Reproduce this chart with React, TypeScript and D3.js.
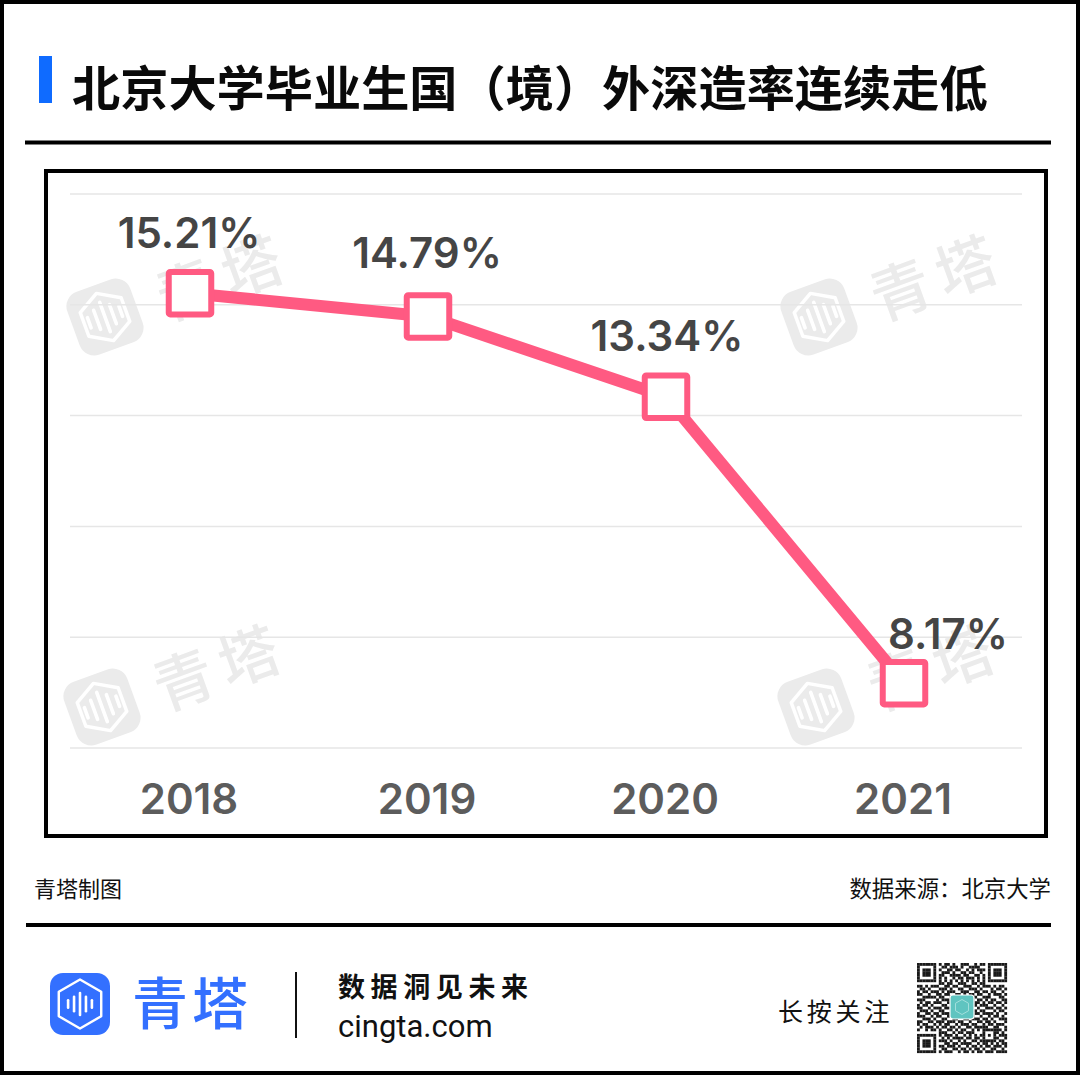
import React from 'react';
import * as d3 from 'd3';

const years = ['2018', '2019', '2020', '2021'];
const rates = [15.21, 14.79, 13.34, 8.17];
const gridTicks = [7, 9, 11, 13, 15, 17];

const titleText = '北京大学毕业生国（境）外深造率连续走低';
const blue = '#0f6bff';
const pink = '#ff5a82';
const cjk = '"Noto Sans CJK SC", "Noto Sans", sans-serif';
const latin = 'Roboto, "Noto Sans", sans-serif';
const numeric = 'Inter, Roboto, sans-serif';

// label offset from each point, the labels do not sit centred on all of them
const labelDx = [-1, -1, 1, 44];
const labelDy = [-45, -48, -46, -34];

const qrRows = [
  '111111101011010011100101101111111',
  '100000100110111010011110001000001',
  '101110101001101100101011101011101',
  '101110100111010011011001001011101',
  '101110101100111101100110101011101',
  '100000101010010110111010101000001',
  '111111101010101010101010101111111',
  '000000001101100111001101100000000',
  '110101110011011001110010111010110',
  '011010001110100110011101000101101',
  '101101110101110011100110110110010',
  '110010011011001101011011001011101',
  '001111101100110010110100111000110',
  '111000010111000101001011010110011',
  '010110111001011110110110101101101',
  '101101000110101001001101110010010',
  '110010111011010110110010011101101',
  '011101001100101011011101100010110',
  '100110110111011100100110111101001',
  '111001011001100111011001001011010',
  '001110100110011001101110110100111',
  '110011011101110110010011011010001',
  '101100101011001011101100101101110',
  '010111010110110100110111110011001',
  '100101101001101011001010111111101',
  '000000001110010110111000100011010',
  '111111101011101001010101101010111',
  '100000100101011110110110100011001',
  '101110101110100101001101111110110',
  '101110100011011011110010110101011',
  '101110101101110100101101011011101',
  '100000100110011011010110100110010',
  '111111101011100101101011011101111',
];

const x = d3.scaleBand<string>().domain(years).range([71, 1023]);
const y = d3.scaleLinear().domain([7, 17]).range([748, 194]);
const cx = (year: string) => (x(year) as number) + x.bandwidth() / 2;

const linePath = d3.line<number>()
  .x((_, i) => cx(years[i]))
  .y(d => y(d))(rates) as string;

// logo hexagon, unit radius
const hexPath = d3.line<number>()
  .x(a => Math.cos(a) * 1)
  .y(a => Math.sin(a) * 1)
  .curve(d3.curveLinearClosed)(d3.range(6).map(i => Math.PI / 6 + i * Math.PI / 3)) as string;

const logoBars = [
  { dx: -14, h: 9 },
  { dx: -7, h: 17 },
  { dx: 0, h: 26 },
  { dx: 7, h: 17 },
  { dx: 14, h: 9 },
];

const LogoMark: React.FC<{ size: number; bg: string; fg: string }> = ({ size, bg, fg }) => {
  const k = size / 56;
  return (
    <g>
      <rect x={-size / 2} y={-size / 2} width={size} height={size} rx={13 * k} fill={bg} />
      <g transform={`scale(${21 * k})`}>
        <path d={hexPath} fill="none" stroke={fg} strokeWidth={0.14} strokeLinejoin="round" />
      </g>
      {logoBars.map(b => (
        <line
          key={b.dx}
          x1={b.dx * k}
          x2={b.dx * k}
          y1={(-b.h / 2) * k}
          y2={(b.h / 2) * k}
          stroke={fg}
          strokeWidth={3 * k}
          strokeLinecap="round"
        />
      ))}
    </g>
  );
};

const Watermark: React.FC<{ px: number; py: number }> = ({ px, py }) => (
  <g transform={`translate(${px},${py}) rotate(-20)`}>
    <LogoMark size={67} bg="#ebebeb" fg="#ffffff" />
    <text x={56} y={25} fontFamily={cjk} fontSize={60} fill="#ebebeb" fontWeight={500}>青</text>
    <text x={125} y={25} fontFamily={cjk} fontSize={60} fill="#ebebeb" fontWeight={500}>塔</text>
  </g>
);

const App: React.FC = () => {
  const marker = 42.5;
  const qrX = 917;
  const qrY = 963;
  const qrCell = 90 / 33;

  return (
    <svg
      width={1080}
      height={1075}
      viewBox="0 0 1080 1075"
      style={{ position: 'absolute', left: 0, top: 0, background: '#fff' }}
    >
      <rect x={2} y={2} width={1076} height={1071} fill="#fff" stroke="#000" strokeWidth={4} />

      {/* header */}
      <rect x={39} y={56} width={13} height={47} fill={blue} />
      <text x={72} y={106} fontFamily={cjk} fontSize={48.2} fontWeight={700} fill="#0a0a0a">{titleText}</text>
      <line x1={25} x2={1051} y1={142.5} y2={142.5} stroke="#000" strokeWidth={4} />

      {/* chart panel */}
      <rect x={46} y={171} width={1000} height={665} fill="#fff" stroke="#000" strokeWidth={4} />

      <Watermark px={105} py={317} />
      <Watermark px={819} py={317} />
      <Watermark px={102} py={707} />
      <Watermark px={816} py={707} />

      {gridTicks.map(t => (
        <line key={t} x1={70} x2={1022} y1={y(t)} y2={y(t)} stroke="#e6e6e6" strokeWidth={1.5} />
      ))}

      <path d={linePath} fill="none" stroke={pink} strokeWidth={12} strokeLinejoin="round" />

      {rates.map((r, i) => (
        <rect
          key={years[i]}
          x={cx(years[i]) - marker / 2}
          y={y(r) - marker / 2}
          width={marker}
          height={marker}
          rx={1.5}
          fill="#fff"
          stroke={pink}
          strokeWidth={6}
        />
      ))}

      {rates.map((r, i) => (
        <text
          key={years[i]}
          x={cx(years[i]) + labelDx[i]}
          y={y(r) + labelDy[i]}
          textAnchor="middle"
          fontFamily={numeric}
          fontSize={42}
          fontWeight={600}
          fill="#454545"
        >
          {r.toFixed(2)}%
        </text>
      ))}

      {years.map(yr => (
        <text
          key={yr}
          x={cx(yr) - 1}
          y={814}
          textAnchor="middle"
          fontFamily={numeric}
          fontSize={42}
          fontWeight={600}
          fill="#5c5c5c"
        >
          {yr}
        </text>
      ))}

      {/* source row */}
      <text x={34} y={897} fontFamily={cjk} fontSize={22} fill="#111">青塔制图</text>
      <text x={1051} y={897} textAnchor="end" fontFamily={cjk} fontSize={22.4} fill="#111">数据来源：北京大学</text>
      <line x1={26} x2={1051} y1={925} y2={925} stroke="#000" strokeWidth={4} />

      {/* footer */}
      <g transform="translate(80,1004)">
        <rect x={-30} y={-31} width={60} height={62} rx={13} fill="#3370ff" />
        <g transform="scale(24.5)">
          <path d={hexPath} fill="none" stroke="#fff" strokeWidth={0.1} strokeLinejoin="round" />
        </g>
        {logoBars.map(b => (
          <line
            key={b.dx}
            x1={b.dx * 0.85}
            x2={b.dx * 0.85}
            y1={-b.h * 0.42}
            y2={b.h * 0.42}
            stroke="#fff"
            strokeWidth={2.6}
            strokeLinecap="round"
          />
        ))}
      </g>
      <text x={132} y={1024} fontFamily={cjk} fontSize={56} fill="#3370ff" fontWeight={500} letterSpacing={4}>青塔</text>
      <line x1={296} x2={296} y1={972} y2={1038} stroke="#111" strokeWidth={2} />
      <text x={338} y={997} fontFamily={cjk} fontSize={27} fontWeight={700} fill="#111" letterSpacing={5.6}>数据洞见未来</text>
      <text x={338} y={1037} fontFamily={latin} fontSize={31} fill="#111">cingta.com</text>
      <text x={778} y={1021} fontFamily={cjk} fontSize={25} fill="#111" letterSpacing={3.8}>长按关注</text>

      {qrRows.map((row, r) =>
        row.split('').map((c, k) =>
          c === '1' ? (
            <rect
              key={`${r}-${k}`}
              x={qrX + k * qrCell}
              y={qrY + r * qrCell}
              width={qrCell + 0.1}
              height={qrCell + 0.1}
              fill="#1a1a1a"
            />
          ) : null
        )
      )}
      <g transform="translate(962,1007)">
        <rect x={-12} y={-12} width={24} height={24} rx={3} fill="#5fc4c0" stroke="#fff" strokeWidth={1.2} />
        <g transform="scale(7.5)">
          <path d={hexPath} fill="none" stroke="#a9e2df" strokeWidth={0.12} />
        </g>
      </g>
    </svg>
  );
};

export default App;
